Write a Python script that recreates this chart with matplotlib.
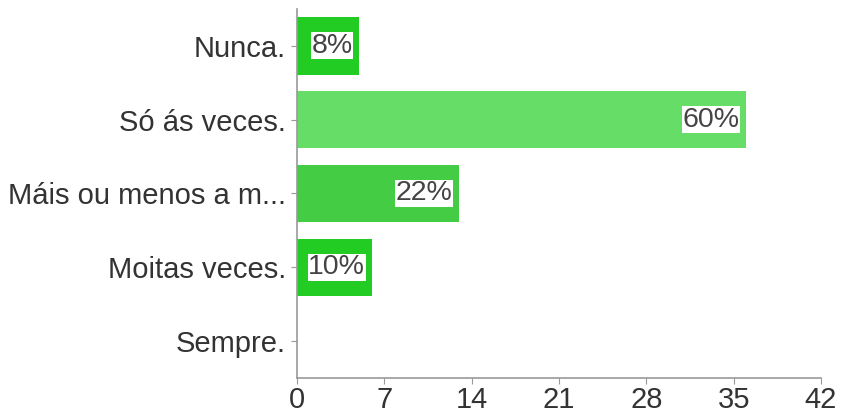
import matplotlib
matplotlib.use("Agg")
import matplotlib.pyplot as plt

categories = ["Nunca.", "Só ás veces.", "Máis ou menos a m...", "Moitas veces.", "Sempre."]
counts = [5, 36, 13, 6, 0]
percent_labels = ["8%", "60%", "22%", "10%", ""]
colors = ["#22cc22", "#66dd66", "#44cc44", "#22cc22", "#22cc22"]
xticks = [0, 7, 14, 21, 28, 35, 42]

plt.rcParams['font.family'] = ['Liberation Sans', 'DejaVu Sans']

fig = plt.figure(figsize=(8.41, 4.17), dpi=100)
ax = fig.add_axes([297/841, 1 - 378/417, 524/841, 369/417])

ypos = list(range(len(categories)))
ax.barh(ypos, counts, height=0.78, color=colors)
ax.set_ylim(len(categories) - 0.5, -0.5)
ax.set_xlim(0, 42)
ax.set_xticks(xticks)
ax.set_xticklabels([str(t) for t in xticks])
ax.set_yticks(ypos)
ax.set_yticklabels(categories)

for s in ["top", "right"]:
    ax.spines[s].set_visible(False)
for s in ["left", "bottom"]:
    ax.spines[s].set_color("#999999")
    ax.spines[s].set_linewidth(1.2)
ax.tick_params(axis="both", colors="#999999", labelcolor="#333333", labelsize=21, length=4)
ax.tick_params(axis="x", pad=2)
ax.tick_params(axis="y", pad=4)

for y, c, lab in zip(ypos, counts, percent_labels):
    if lab:
        ax.text(c - 0.55, y, lab, ha="right", va="center", fontsize=20.5, color="#444444",
                bbox=dict(facecolor="white", edgecolor="none", pad=0.5))

fig.savefig("out.png", dpi=100)
